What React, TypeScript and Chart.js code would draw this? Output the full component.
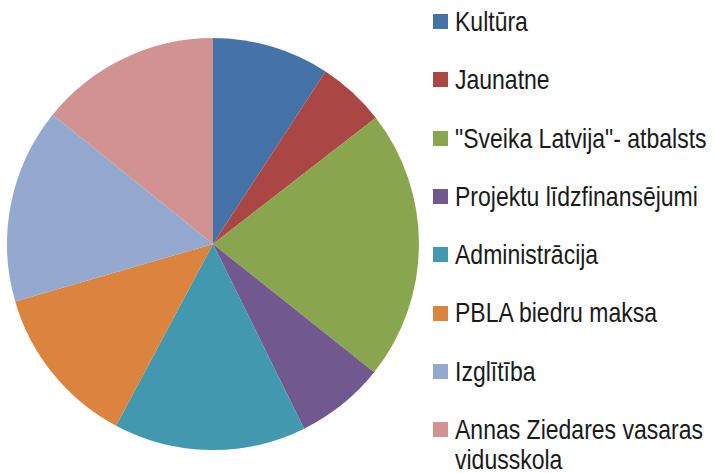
import React, { useEffect, useRef } from "react";
import { Chart, registerables } from "chart.js";

Chart.register(...registerables);

const categories: string[][] = [
  ["Kultūra"],
  ["Jaunatne"],
  ["\"Sveika Latvija\"- atbalsts"],
  ["Projektu līdzfinansējumi"],
  ["Administrācija"],
  ["PBLA biedru maksa"],
  ["Izglītība"],
  ["Annas Ziedares vasaras", "vidusskola"],
];

const values: number[] = [9.2, 5.3, 21.2, 7.0, 15.1, 12.7, 15.3, 14.2];

const colors: string[] = [
  "#4572A7",
  "#AA4643",
  "#89A54E",
  "#71588F",
  "#4198AF",
  "#DB843D",
  "#93A9CF",
  "#D19392",
];

export default function App() {
  const canvasRef = useRef<HTMLCanvasElement | null>(null);

  useEffect(() => {
    document.body.style.margin = "0";
    const ctx = canvasRef.current;
    if (!ctx) return;
    const chart = new Chart(ctx, {
      type: "pie",
      data: {
        labels: categories.map((c) => c.join(" ")),
        datasets: [
          {
            data: values,
            backgroundColor: colors,
            borderWidth: 0,
          },
        ],
      },
      options: {
        animation: false,
        responsive: false,
        maintainAspectRatio: false,
        layout: { padding: { left: 0, right: 4, top: 38, bottom: 23 } },
        plugins: {
          legend: { display: false },
          tooltip: { enabled: false },
        },
      },
    });
    return () => chart.destroy();
  }, []);

  const scaleY = 1.21;

  return (
    <div
      style={{
        position: "fixed",
        left: 0,
        top: 0,
        width: 716,
        height: 473,
        background: "#ffffff",
        overflow: "hidden",
      }}
    >
      <canvas
        ref={canvasRef}
        width={430}
        height={473}
        style={{ position: "absolute", left: 0, top: 0, width: 430, height: 473 }}
      />
      {categories.map((lines, i) => {
        const center = 21.5 + 58.3 * i;
        return (
          <React.Fragment key={i}>
            <div
              style={{
                position: "absolute",
                left: 433,
                top: center - 7.5,
                width: 15,
                height: 15,
                background: colors[i],
              }}
            />
            <div
              style={{
                position: "absolute",
                left: 455,
                top: center - 14.6,
                fontFamily: "'Liberation Sans', Arial, sans-serif",
                fontSize: 23,
                lineHeight: `${30 / scaleY}px`,
                color: "#1a1a1a",
                whiteSpace: "nowrap",
                transform: `scaleY(${scaleY})`,
                transformOrigin: "0 0",
              }}
            >
              {lines.map((l, j) => (
                <div key={j}>{l}</div>
              ))}
            </div>
          </React.Fragment>
        );
      })}
    </div>
  );
}
